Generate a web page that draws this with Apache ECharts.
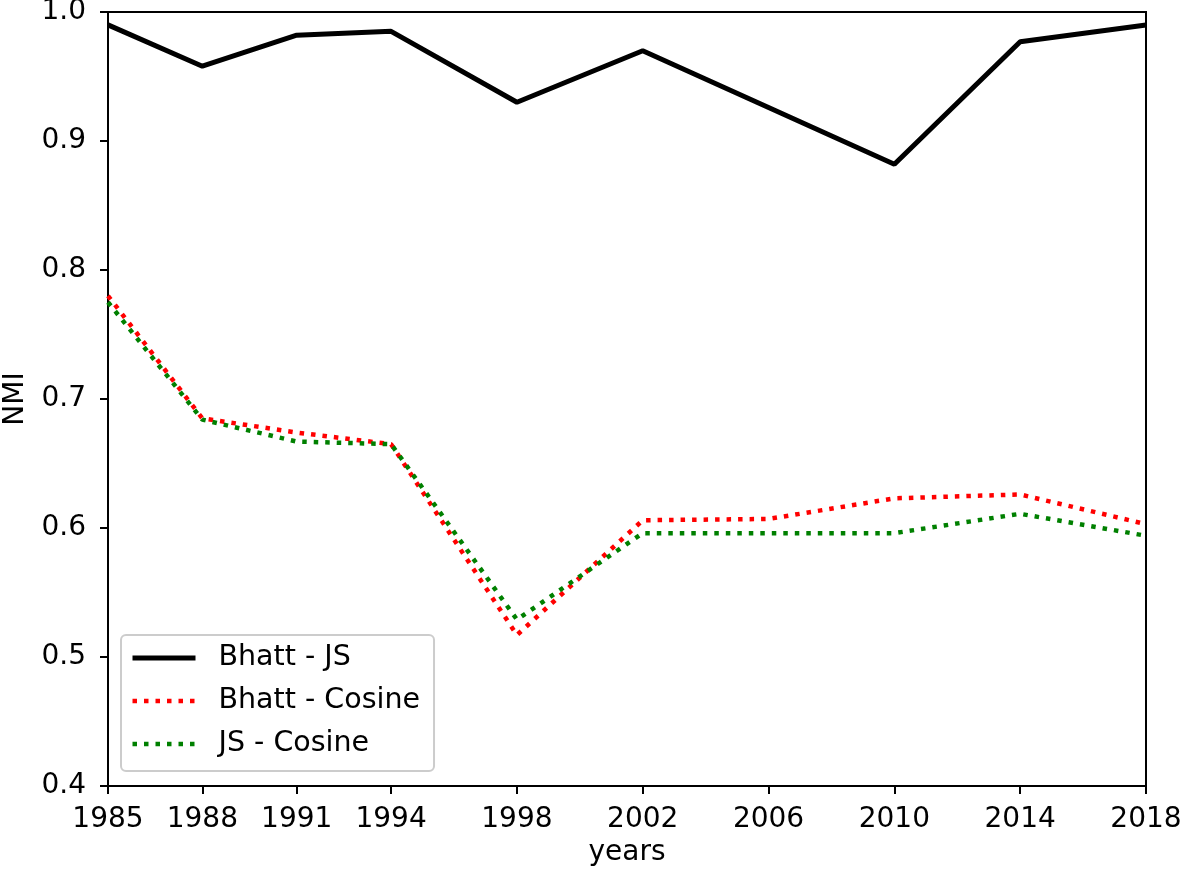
<!DOCTYPE html>
<html>
<head>
<meta charset="utf-8">
<script src="https://cdn.jsdelivr.net/npm/echarts@6/dist/echarts.min.js"></script>
<style>
  html, body { margin: 0; padding: 0; background: #fff; }
  #main { width: 1184px; height: 876px; }
</style>
</head>
<body>
<div id="main"></div>
<script>
// years on the x axis (uneven spacing, numeric axis)
var years = [1985, 1988, 1991, 1994, 1998, 2002, 2006, 2010, 2014, 2018];
var yTicks = [0.4, 0.5, 0.6, 0.7, 0.8, 0.9, 1.0];

var bhattJS     = [0.990, 0.958, 0.982, 0.985, 0.930, 0.970, 0.926, 0.882, 0.977, 0.990];
var bhattCosine = [0.780, 0.685, 0.674, 0.665, 0.517, 0.606, 0.607, 0.623, 0.626, 0.603];
var jsCosine    = [0.775, 0.684, 0.667, 0.665, 0.529, 0.596, 0.596, 0.596, 0.611, 0.594];

function pairs(vals) {
  return years.map(function (y, i) { return [y, vals[i]]; });
}

var font = 'DejaVu Sans';
var dotted = [4.5, 7];
var chart = echarts.init(document.getElementById('main'));

chart.setOption({
  animation: false,
  backgroundColor: '#fff',
  textStyle: { fontFamily: font },
  grid: {
    left: 108, right: 38, top: 12, bottom: 90,
    outerBoundsMode: 'none',
    containLabel: false,
    show: true, borderColor: '#000', borderWidth: 2
  },
  legend: {
    orient: 'vertical',
    left: 121, top: 635,
    itemWidth: 63, itemHeight: 14,
    itemGap: 13,
    padding: [8, 14, 12, 9],
    backgroundColor: '#fff',
    borderColor: '#cccccc', borderWidth: 2, borderRadius: 5,
    itemStyle: { opacity: 0 },
    textStyle: { fontFamily: font, fontSize: 28.5, color: '#000', lineHeight: 30, padding: [0, 0, 0, 18] },
    data: [
      { name: 'Bhatt - JS', lineStyle: { color: '#000', width: 5, type: 'solid' } },
      { name: 'Bhatt - Cosine', lineStyle: { color: '#ff0000', width: 4.5, type: dotted, cap: 'butt' } },
      { name: 'JS - Cosine', lineStyle: { color: '#008000', width: 4.5, type: dotted, cap: 'butt' } }
    ]
  },
  xAxis: {
    type: 'value',
    min: 1985, max: 2018,
    name: 'years',
    nameLocation: 'middle',
    nameGap: 44,
    nameTextStyle: { fontFamily: font, fontSize: 28, color: '#000' },
    axisLine: { lineStyle: { color: '#000', width: 2 } },
    axisTick: { show: true, length: 8, lineStyle: { color: '#000', width: 2 }, customValues: years },
    axisLabel: { fontFamily: font, fontSize: 28, color: '#000', margin: 20, customValues: years,
      formatter: function (v) { return String(v); } },
    splitLine: { show: false }
  },
  yAxis: {
    type: 'value',
    min: 0.4, max: 1.0, interval: 0.1,
    name: 'NMI',
    nameLocation: 'middle',
    nameGap: 78,
    nameTextStyle: { fontFamily: font, fontSize: 28, color: '#000' },
    axisLine: { show: true, lineStyle: { color: '#000', width: 2 } },
    axisTick: { show: true, length: 8, lineStyle: { color: '#000', width: 2 } },
    axisLabel: { fontFamily: font, fontSize: 28, color: '#000', margin: 22,
      formatter: function (v) { return v.toFixed(1); } },
    splitLine: { show: false }
  },
  series: [
    {
      name: 'Bhatt - JS', type: 'line', data: pairs(bhattJS),
      symbol: 'none', color: '#000',
      lineStyle: { color: '#000', width: 5 }
    },
    {
      name: 'Bhatt - Cosine', type: 'line', data: pairs(bhattCosine),
      symbol: 'none', color: '#ff0000',
      lineStyle: { color: '#ff0000', width: 4.5, type: dotted, cap: 'butt' }
    },
    {
      name: 'JS - Cosine', type: 'line', data: pairs(jsCosine),
      symbol: 'none', color: '#008000',
      lineStyle: { color: '#008000', width: 4.5, type: dotted, cap: 'butt' }
    }
  ]
});
</script>
</body>
</html>
